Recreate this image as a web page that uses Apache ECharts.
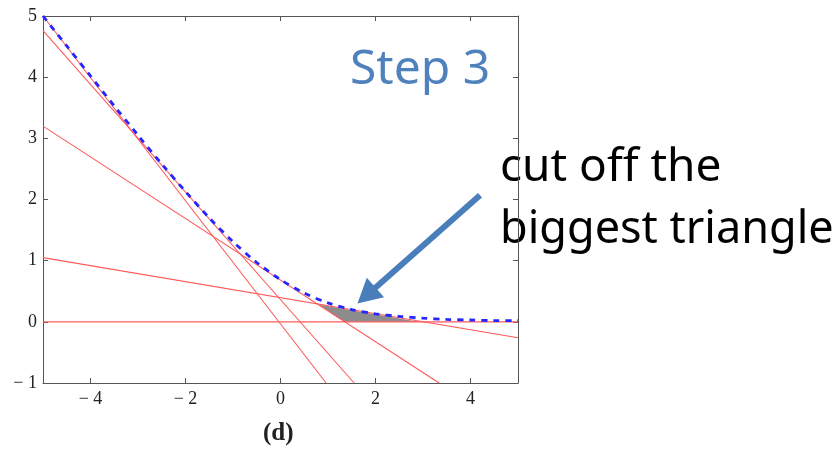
<!DOCTYPE html>
<html><head><meta charset="utf-8">
<script src="https://cdn.jsdelivr.net/npm/echarts@6/dist/echarts.min.js"></script>
<style>html,body{margin:0;padding:0;background:#fff}#c{width:839px;height:449px}</style>
</head><body><div id="c"></div>
<script>
// Blue dashed curve
const curveX = [-5,-4.5,-4,-3.5,-3,-2.5,-2,-1.5,-1,-0.5,0,0.5,1,1.5,2,2.5,3,3.5,4,4.5,5];
const curveY = [5.0,4.51,4.02,3.53,3.05,2.58,2.13,1.70,1.31,0.97,0.69,0.47,0.31,0.20,0.13,0.09,0.06,0.04,0.03,0.02,0.02];
// Red tangent lines: endpoints [x0,y0,x1,y1]
const lineA = [-5, 5.0, 0.96, -1];
const lineB = [-5, 4.76, 1.55, -1];
const lineC = [-5, 3.2, 3.34, -1];
const lineD = [-5, 1.05, 5, -0.26];
const lineE = [-5, 0, 5, 0];
// Shaded triangle vertices
const triX = [0.80, 1.35, 2.90];
const triY = [0.285, 0, 0];
// Arrow (tail -> head) in data units
const arrowFrom = [4.2, 2.07];
const arrowTo = [1.62, 0.30];
const xTicks = [-4,-2,0,2,4];

const fmt = v => v < 0 ? '\u2212 ' + Math.abs(v) : String(v);
const serif = '"Liberation Serif", "DejaVu Serif", serif';
const axisCol = '#555';
const redLines = [lineA, lineB, lineC, lineD, lineE].map(l => ({
  type: 'line', data: [[l[0], l[1]], [l[2], l[3]]], symbol: 'none', silent: true,
  lineStyle: {color: '#ff5a5a', width: 1.1}, z: 2
}));

const chart = echarts.init(document.getElementById('c'));
chart.setOption({
  animation: false,
  grid: {left: 43, right: 321, top: 16, bottom: 66},
  xAxis: [
    {type: 'value', min: -5, max: 5, position: 'bottom',
     axisLine: {show: true, onZero: false, lineStyle: {color: axisCol}},
     axisTick: {show: true, inside: true, length: 5, customValues: xTicks, lineStyle: {color: axisCol}},
     axisLabel: {customValues: xTicks, formatter: fmt, fontFamily: serif, fontSize: 18, color: '#222', margin: 7},
     splitLine: {show: false}},
    {type: 'value', min: -5, max: 5, position: 'top',
     axisLine: {show: true, onZero: false, lineStyle: {color: axisCol}},
     axisTick: {show: true, inside: true, length: 5, customValues: xTicks, lineStyle: {color: axisCol}},
     axisLabel: {show: false}, splitLine: {show: false}}
  ],
  yAxis: [
    {type: 'value', min: -1, max: 5, interval: 1, position: 'left',
     axisLine: {show: true, onZero: false, lineStyle: {color: axisCol}},
     axisTick: {show: true, inside: true, length: 5, lineStyle: {color: axisCol}},
     axisLabel: {formatter: fmt, fontFamily: serif, fontSize: 18, color: '#222', margin: 6},
     splitLine: {show: false}},
    {type: 'value', min: -1, max: 5, interval: 1, position: 'right',
     axisLine: {show: true, onZero: false, lineStyle: {color: axisCol}},
     axisTick: {show: true, inside: true, length: 5, lineStyle: {color: axisCol}},
     axisLabel: {show: false}, splitLine: {show: false}}
  ],
  series: [
    {type: 'custom', silent: true, z: 1, data: [0],
     renderItem: (params, api) => {
       const pts = triX.map((x, i) => api.coord([x, triY[i]]));
       return {type: 'polygon', shape: {points: pts}, style: {fill: '#8c8c8c'}};
     }},
    ...redLines,
    {type: 'line', data: curveX.map((x, i) => [x, curveY[i]]), symbol: 'none', smooth: 0.3, silent: true,
     lineStyle: {color: '#2525ff', width: 2.8, type: [6, 6]}, z: 3},
    {type: 'custom', silent: true, z: 5, data: [0], clip: false,
     renderItem: (params, api) => {
       const a = api.coord(arrowFrom), b = api.coord(arrowTo);
       const dx = b[0] - a[0], dy = b[1] - a[1], L = Math.hypot(dx, dy);
       const ux = dx / L, uy = dy / L, hl = 24, hw = 13;
       const base = [b[0] - ux * hl, b[1] - uy * hl];
       return {type: 'group', children: [
         {type: 'line', shape: {x1: a[0], y1: a[1], x2: base[0] + ux * 2, y2: base[1] + uy * 2},
          style: {stroke: '#4a7ebb', lineWidth: 6}},
         {type: 'polygon', shape: {points: [b, [base[0] - uy * hw, base[1] + ux * hw], [base[0] + uy * hw, base[1] - ux * hw]]},
          style: {fill: '#4a7ebb'}}
       ]};
     }}
  ],
  graphic: [
    {type: 'text', left: 350, top: 46, style: {text: 'Step 3', font: '48px "Noto Sans"', fill: '#4f81bd'}},
    {type: 'text', left: 500, top: 145, style: {text: 'cut off the', font: '46px "Noto Sans"', fill: '#000'}},
    {type: 'text', left: 500, top: 208, style: {text: 'biggest triangle', font: '45px "Noto Sans"', fill: '#000'}},
    {type: 'text', left: 263, top: 421, style: {text: '(d)', font: 'bold 25px "Liberation Serif"', fill: '#222'}}
  ]
});
</script></body></html>
